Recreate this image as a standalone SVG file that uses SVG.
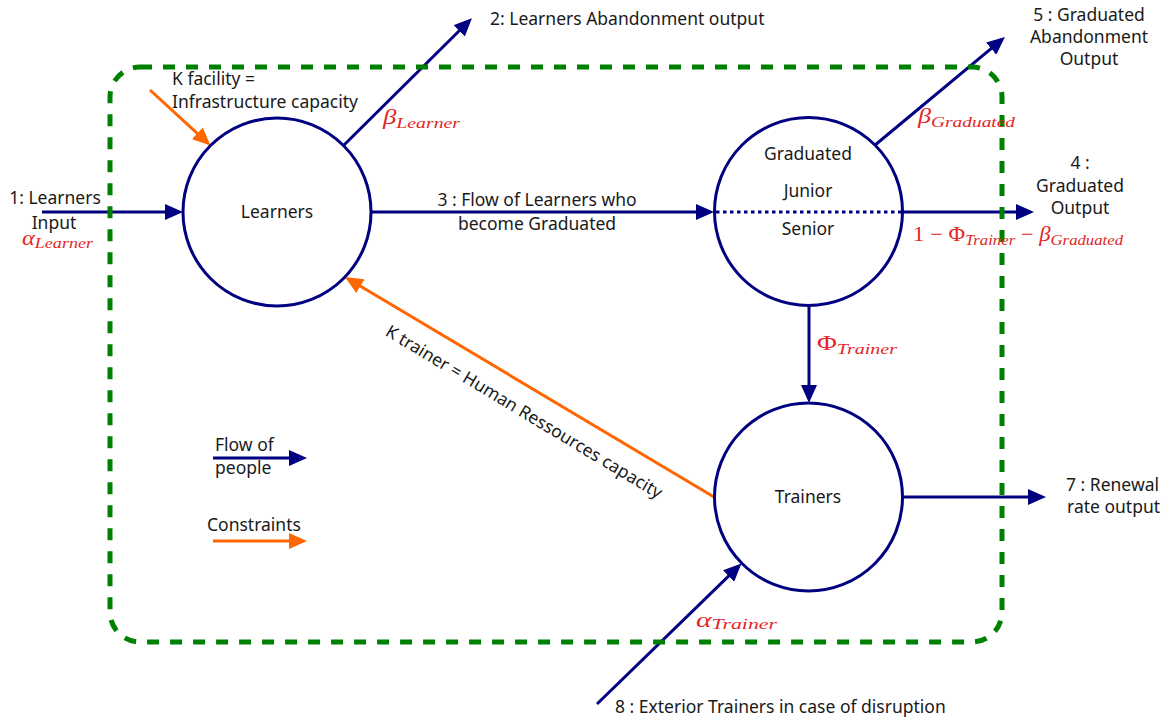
<svg xmlns="http://www.w3.org/2000/svg" width="1168" height="720" viewBox="0 0 1168 720">
<style>
  .node { fill: #ffffff; stroke: #000080; stroke-width: 3; }
  .flow { fill: none; stroke: #000080; stroke-width: 3; marker-end: url(#ab); }
  .cons { fill: none; stroke: #ff6600; stroke-width: 3; marker-end: url(#ao); }
  .t { font-family: "Noto Sans", "Open Sans", sans-serif; font-size: 17.5px; fill: #1a1a1a; }
  .c { text-anchor: middle; }
  .m { font-family: "Liberation Serif", "DejaVu Serif", serif; font-size: 21px; fill: #e32626; }
  .i { font-style: italic; }
  .s { font-size: 15.5px; font-style: italic; }
</style>
<defs>
  <marker id="ab" viewBox="0 0 18 16" refX="14" refY="8" markerWidth="18" markerHeight="16" markerUnits="userSpaceOnUse" orient="auto">
    <path d="M0,0 L18,8 L0,16 z" fill="#000080"/>
  </marker>
  <marker id="ao" viewBox="0 0 18 16" refX="14" refY="8" markerWidth="18" markerHeight="16" markerUnits="userSpaceOnUse" orient="auto">
    <path d="M0,0 L18,8 L0,16 z" fill="#ff6600"/>
  </marker>
</defs>
<rect width="1168" height="720" fill="#ffffff"/>

<g id="connectors">
  <line class="flow" x1="42" y1="212" x2="179" y2="212"/>
  <line class="flow" x1="371" y1="212" x2="710" y2="212"/>
  <line class="flow" x1="903" y1="212" x2="1030" y2="212"/>
  <line class="flow" x1="343.5" y1="145.5" x2="469.1" y2="21"/>
  <line class="flow" x1="874.5" y1="145.5" x2="1001.9" y2="39.6"/>
  <line class="flow" x1="809" y1="305" x2="809" y2="399"/>
  <line class="flow" x1="903" y1="497" x2="1042" y2="497"/>
  <line class="flow" x1="597" y1="704" x2="738.6" y2="566.3"/>
  <line class="cons" x1="150" y1="90" x2="207.6" y2="142.8"/>
  <line class="cons" x1="714" y1="497" x2="348.4" y2="279"/>
  <line class="flow" x1="213" y1="458" x2="303" y2="458"/>
  <line class="cons" x1="213" y1="541" x2="303" y2="541"/>
</g>

<g id="system-boundary">
  <rect x="110" y="67" width="892" height="575" rx="30" ry="30" fill="none" stroke="#008000" stroke-width="5" stroke-dasharray="12 11"/>
</g>

<g id="learners">
  <circle class="node" cx="277" cy="212" r="94"/>
  <text class="t c" x="277" y="218">Learners</text>
</g>

<g id="graduated">
  <circle class="node" cx="808.5" cy="211.5" r="94"/>
  <line x1="716" y1="212" x2="901" y2="212" stroke="#000080" stroke-width="3" stroke-dasharray="3.5 3.5"/>
  <text class="t c" x="808" y="160">Graduated</text>
  <text class="t c" x="808" y="197">Junior</text>
  <text class="t c" x="808" y="235">Senior</text>
</g>

<g id="trainers">
  <circle class="node" cx="808.5" cy="497" r="94"/>
  <text class="t c" x="808" y="503">Trainers</text>
</g>

<g id="labels">
  <text class="t c" x="55" y="204">1: Learners</text>
  <text class="t c" x="54" y="229">Input</text>
  <text class="t" x="172" y="85">K facility =</text>
  <text class="t" x="172" y="108">Infrastructure capacity</text>
  <text class="t" x="490" y="25">2: Learners Abandonment output</text>
  <text class="t c" x="537" y="206">3 : Flow of Learners who</text>
  <text class="t c" x="537" y="230">become Graduated</text>
  <text class="t c" x="1089" y="21">5 : Graduated</text>
  <text class="t c" x="1089" y="43">Abandonment</text>
  <text class="t c" x="1089" y="65">Output</text>
  <text class="t c" x="1080" y="169">4 :</text>
  <text class="t c" x="1080" y="192">Graduated</text>
  <text class="t c" x="1080" y="214">Output</text>
  <text class="t" x="1066" y="491">7 : Renewal</text>
  <text class="t" x="1067" y="513">rate output</text>
  <text class="t" x="615" y="713">8 : Exterior Trainers in case of disruption</text>
  <text class="t c" transform="translate(521,417) rotate(31)">K trainer = Human Ressources capacity</text>
  <text class="t" x="215" y="451">Flow of</text>
  <text class="t" x="215" y="474">people</text>
  <text class="t" x="207" y="531">Constraints</text>

  <text class="m" x="22" y="245" textLength="71" lengthAdjust="spacingAndGlyphs"><tspan class="i">α</tspan><tspan class="s" dy="3">Learner</tspan></text>
  <text class="m" x="383" y="124" textLength="77" lengthAdjust="spacingAndGlyphs"><tspan class="i">β</tspan><tspan class="s" dy="4">Learner</tspan></text>
  <text class="m" x="918" y="123" textLength="97" lengthAdjust="spacingAndGlyphs"><tspan class="i">β</tspan><tspan class="s" dy="4">Graduated</tspan></text>
  <text class="m" x="913" y="241" textLength="210" lengthAdjust="spacingAndGlyphs">1 − Φ<tspan class="s" dy="4">Trainer</tspan><tspan dy="-4"> − </tspan><tspan class="i">β</tspan><tspan class="s" dy="4">Graduated</tspan></text>
  <text class="m" x="817" y="350" textLength="80" lengthAdjust="spacingAndGlyphs">Φ<tspan class="s" dy="4">Trainer</tspan></text>
  <text class="m" x="696" y="627" textLength="81" lengthAdjust="spacingAndGlyphs"><tspan class="i">α</tspan><tspan class="s" dy="2">Trainer</tspan></text>
</g>
</svg>
